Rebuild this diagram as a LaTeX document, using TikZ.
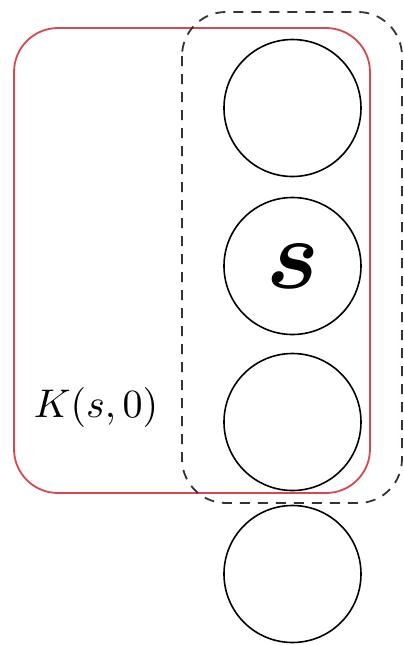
\documentclass[tikz,border=0pt]{standalone}
\usepackage{amsmath,bm}
\definecolor{boxred}{RGB}{214,72,80}
\begin{document}
\begin{tikzpicture}[x=0.25pt,y=-0.25pt,
  unit/.style={circle,draw,line width=0.4pt,minimum size=34.25pt,inner sep=0pt},
  redbox/.style={draw=boxred,line width=0.45pt,rounded corners=11pt},
  dashbox/.style={draw=black!80,line width=0.45pt,rounded corners=11pt,dash pattern=on 2.5pt off 2pt}]
\useasboundingbox (0,0) rectangle (404,645);
\draw[redbox] (14,28) rectangle (370,493);
\draw[dashbox] (182,12) rectangle (402,503);
\node[unit] (c1) at (292.5,108) {};
\node[unit] (c2) at (292.5,266) {\fontsize{24}{26}\selectfont$\bm{s}$};
\node[unit] (c3) at (292.5,422) {};
\node[unit] (c4) at (292.5,574) {};
\node (k) at (96,407) {$K(s,0)$};
\end{tikzpicture}
\end{document}
